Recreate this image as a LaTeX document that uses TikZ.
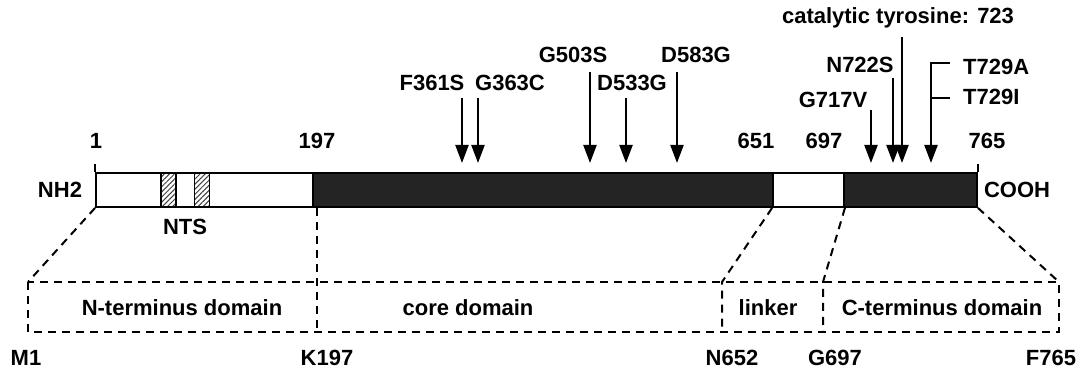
\documentclass[tikz,border=0pt]{standalone}
\usepackage{fontspec}
\setmainfont{Liberation Sans}
\usetikzlibrary{arrows.meta,patterns.meta,positioning}

\begin{document}
\begin{tikzpicture}[x=1pt,y=-1pt,
  seg/.style={draw,line width=1.9pt,inner sep=0pt,minimum height=34pt},
  nts/.style={draw,line width=1.3pt,inner sep=0pt,minimum height=34pt,minimum width=15pt,
              pattern={Lines[angle=45,distance=3.6pt,line width=1pt]},pattern color=black!75},
  lbl/.style={font=\bfseries\fontsize{22}{26}\selectfont,inner sep=0pt},
  mut/.style={line width=2.2pt,-{Triangle[length=18pt,width=13pt]}},
  dsh/.style={line width=2pt,dash pattern=on 8pt off 6pt}
]
\useasboundingbox (0,0) rectangle (1081,374);

% protein bar
\node[seg,fill=white,minimum width=217pt]     (nterm) at (204.5,190) {};
\node[seg,fill=black!86,minimum width=460pt]  (core)  at (543,190)   {};
\node[seg,fill=white,minimum width=71pt]      (link)  at (808.5,190) {};
\node[seg,fill=black!86,minimum width=133pt]  (cterm) at (910.5,190) {};
\node[nts] (nts1) at (168.5,190) {};
\node[nts] (nts2) at (202,190)   {};
\draw[line width=1.9pt] (nterm.north west) -- ++(0,-8);
\draw[line width=1.9pt] (cterm.north east) -- ++(0,-8);

\node[lbl] (nh2)  at (60,190)   {NH2};
\node[lbl] (cooh) at (1017,190) {COOH};
\node[lbl] (ntsl) at (185,227)  {NTS};
\node[lbl] (p1)   at (96,141)   {1};
\node[lbl] (p197) at (317,141)  {197};
\node[lbl] (p651) at (756,141)  {651};
\node[lbl] (p697) at (824,141)  {697};
\node[lbl] (p765) at (987,141)  {765};

% point mutations
\foreach \nm/\px/\py/\txt/\lx/\ly in {361/462/98/F361S/432/83, 363/478/98/G363C/510/83,
    503/590/72/G503S/573/55, 533/626/98/D533G/632/83, 583/677/72/D583G/696/55,
    717/871/110/G717V/833/100, 722/893/78/N722S/860/65} {
  \coordinate (s\nm) at (\px,\py);
  \coordinate (t\nm) at (\px,163);
  \node[lbl] (l\nm) at (\lx,\ly) {\txt};
  \draw[mut] (s\nm) -- (t\nm);
}
\node[lbl] (lcat) at (898,18) {catalytic tyrosine: 723};
\coordinate (scat) at (902,37);
\coordinate (tcat) at (902,163);
\draw[mut] (scat) -- (tcat);

\node[lbl,anchor=west] (l729a) at (963,67) {T729A};
\node[lbl,anchor=west] (l729i) at (963,97) {T729I};
\coordinate (s729) at (931,63);
\coordinate (t729) at (931,163);
\draw[mut] (950,63) -- (s729) -- (t729);
\draw[line width=2.2pt] (931,98) -- (950,98);

% domains
\coordinate (m1)   at (28,282);
\coordinate (k197) at (317,282);
\coordinate (n652) at (722,282);
\coordinate (g697) at (823,282);
\coordinate (f765) at (1059,282);
\draw[dsh] (m1) rectangle (1059,332);
\draw[dsh] (nterm.south west) -- (m1);
\draw[dsh] (k197 |- core.south) -- (k197) -- ++(0,50);
\draw[dsh] (link.south west) -- (n652) -- ++(0,50);
\draw[dsh] (link.south east) -- (g697) -- ++(0,50);
\draw[dsh] (cterm.south east) -- (f765);

\node[lbl] (dnt)   at (182,308) {N-terminus domain};
\node[lbl] (dcore) at (468,308) {core domain};
\node[lbl] (dlink) at (768,308) {linker};
\node[lbl] (dct)   at (942,308) {C-terminus domain};

\node[lbl] (lm1)   at (26,358)   {M1};
\node[lbl] (lk197) at (327,358)  {K197};
\node[lbl] (ln652) at (732,358)  {N652};
\node[lbl] (lg697) at (835,358)  {G697};
\node[lbl] (lf765) at (1051,358) {F765};
\end{tikzpicture}
\end{document}
